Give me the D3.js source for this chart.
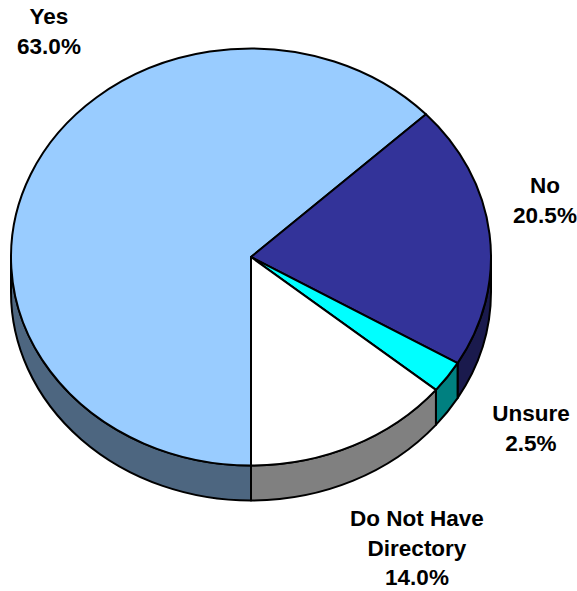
<!DOCTYPE html>
<html>
<head>
<meta charset="utf-8">
<script src="https://cdn.jsdelivr.net/npm/d3@7"></script>
<style>
  html, body { margin: 0; padding: 0; background: #fff; }
  svg { display: block; }
  text { font-family: "Liberation Sans", Arial, sans-serif; font-weight: bold; font-size: 22.5px; fill: #000; }
</style>
</head>
<body>
<script>
//chart data, clockwise from the bottom of the pie
var categories = ["Yes", "No", "Unsure", "Do Not Have Directory"];
var values = [63.0, 20.5, 2.5, 14.0];
var topColors = ["#99ccff", "#333399", "#00ffff", "#ffffff"];
var sideColors = ["#4d6680", "#1a1a4d", "#008080", "#808080"];
//how each category name breaks over lines
var labelLines = [["Yes"], ["No"], ["Unsure"], ["Do Not Have", "Directory"]];

//width and height
var w = 577;
var h = 591;

//pie geometry, the top of the pie is a squashed circle
var cx = 251, cy = 257, rx = 240, ry = 208.5, depth = 35;

//where the label blocks go: centre x, first baseline
var labelX = [49, 545, 531, 417];
var labelY = [24, 193, 421, 526];
var lineGap = 29.5;

var svg = d3.select("body")
            .append("svg")
            .attr("width", w)
            .attr("height", h);

var rows = categories.map(function(c, i) {
    return { name: c, value: values[i], top: topColors[i], side: sideColors[i], lines: labelLines[i], lx: labelX[i], ly: labelY[i] };
});

var pie = d3.pie()
            .value(function(d) { return d.value; })
            .sort(null)
            .startAngle(Math.PI)
            .endAngle(3 * Math.PI);

var arcs = pie(rows);

//d3 arc for the top faces, drawn on a circle of rx and squashed after
var arc = d3.arc().innerRadius(0).outerRadius(rx);

//point on the rim, angle clockwise from 12 o'clock
function rimX(a) { return cx + rx * Math.sin(a); }
function rimY(a) { return cy - ry * Math.cos(a); }

//visible wall of a slice: only the part of the rim facing the viewer (3 to 9 o'clock)
function sidePath(d) {
    //slices past 12 o'clock come out of the pie with angles above 2pi
    var shift = d.startAngle >= 2 * Math.PI ? 2 * Math.PI : 0;
    var a0 = Math.max(d.startAngle - shift, Math.PI / 2);
    var a1 = Math.min(d.endAngle - shift, 3 * Math.PI / 2);
    if (a1 <= a0) return null;
    var big = a1 - a0 > Math.PI ? 1 : 0;
    return "M" + rimX(a0) + "," + rimY(a0)
        + "A" + rx + "," + ry + " 0 " + big + " 1 " + rimX(a1) + "," + rimY(a1)
        + "L" + rimX(a1) + "," + (rimY(a1) + depth)
        + "A" + rx + "," + ry + " 0 " + big + " 0 " + rimX(a0) + "," + (rimY(a0) + depth)
        + "Z";
}

//walls first so the top faces sit over them
svg.append("g")
    .selectAll("path")
    .data(arcs.filter(function(d) { return sidePath(d) !== null; }))
    .enter()
    .append("path")
    .attr("d", sidePath)
    .attr("fill", function(d) { return d.data.side; })
    .attr("stroke", "#000")
    .attr("stroke-width", 2)
    .attr("stroke-linejoin", "round");

//top faces
svg.append("g")
    .attr("transform", "translate(" + cx + "," + cy + ") scale(1," + (ry / rx) + ")")
    .selectAll("path")
    .data(arcs)
    .enter()
    .append("path")
    .attr("d", arc)
    .attr("fill", function(d) { return d.data.top; })
    .attr("stroke", "#000")
    .attr("stroke-width", 2)
    .attr("stroke-linejoin", "round")
    .attr("vector-effect", "non-scaling-stroke");

//labels: name lines, then the percentage
var fmt = d3.format(".1f");
var labels = svg.append("g")
    .selectAll("text")
    .data(rows)
    .enter()
    .append("text")
    .attr("text-anchor", "middle");

labels.each(function(d) {
    var all = d.lines.concat([fmt(d.value) + "%"]);
    d3.select(this).selectAll("tspan")
        .data(all)
        .enter()
        .append("tspan")
        .attr("x", d.lx)
        .attr("y", function(t, i) { return d.ly + i * lineGap; })
        .text(function(t) { return t; });
});
</script>
</body>
</html>
